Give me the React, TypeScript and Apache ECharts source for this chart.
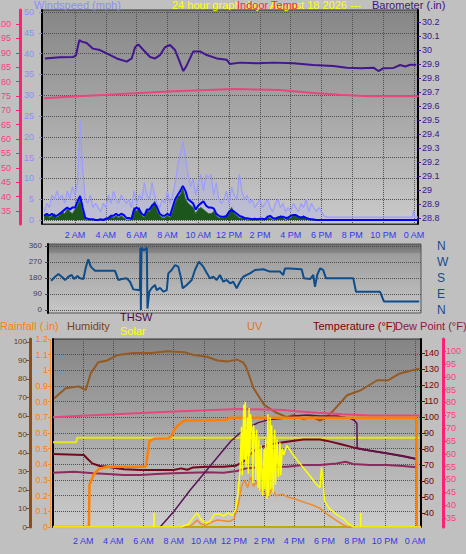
import React, { useEffect, useRef } from "react";
import * as echarts from "echarts";

// ---------- tick labels ----------
const hourTicks = [2, 4, 6, 8, 10, 12, 14, 16, 18, 20, 22, 24];
const windTicks = [0, 5, 10, 15, 20, 25, 30, 35, 40, 45, 50];
const indoorTicksTop = [35, 40, 45, 50, 55, 60, 65, 70, 75, 80, 85, 90, 95, 100, 105];
const baroTicks = [28.8, 28.9, 29, 29.1, 29.2, 29.3, 29.4, 29.5, 29.6, 29.7, 29.8, 29.9, 30, 30.1, 30.2];
const dirTicks = [0, 90, 180, 270, 360];
const dirNames = ["N", "E", "S", "W", "N"];
const rainTicks = [0, 0.1, 0.2, 0.3, 0.4, 0.5, 0.6, 0.7, 0.8, 0.9, 1, 1.1, 1.2];
const humTicks = [0, 10, 20, 30, 40, 50, 60, 70, 80, 90, 100];
const tempTicks = [40, 50, 60, 70, 80, 90, 100, 110, 120, 130, 140];
const dewTicks = [35, 40, 45, 50, 55, 60, 65, 70, 75, 80, 85, 90, 95, 100];

// ---------- top panel: wind (10-minute samples from midnight) ----------
const windGust = [
  2, 4, 3, 6, 5, 7, 5, 6, 4, 7,
  5, 8, 6, 9, 24, 12, 5, 4, 6, 3,
  4, 3, 2, 4, 3, 6, 4, 7, 5, 4,
  6, 5, 4, 5, 3, 7, 4, 6, 5, 9,
  6, 5, 9, 6, 4, 3, 5, 4, 7, 4,
  6, 9, 13, 16, 19, 15, 11, 8, 10, 6,
  9, 11, 7, 11, 10, 11, 6, 9, 5, 4,
  5, 7, 4, 8, 6, 5, 11, 7, 5, 6,
  4, 5, 3, 4, 5, 3, 4, 5, 3, 2,
  4, 5, 3, 4, 2, 3, 2, 4, 3, 2,
  4, 3, 5, 2, 4, 3, 2, 3, 2, 1, 0.7,
];
const windGustTail: [number, number][] = [[18.5, 0.7], [23.9, 0.7], [23.97, 2.4], [24.05, 0.7], [24.26, 0.7]];
const windAvg = [
  1, 1.5, 1, 1.5, 1, 1, 1.5, 2, 2.5, 3,
  2.5, 3, 3, 4.5, 5.8, 3, 0.5, 0.3, 0.2, 0.2,
  0, 0, 0.2, 0, 0.3, 0.5, 1, 1, 1.5, 1,
  1.5, 1.2, 0.5, 0.5, 0.3, 2.5, 3, 2.5, 1.5, 1,
  2.5, 2.5, 3.5, 4, 3, 1.5, 1, 1, 1.5, 1,
  3, 5, 6, 7, 8.2, 7, 5, 4.5, 4, 2.5,
  3.5, 4, 4.5, 3.5, 3, 3, 2.8, 1.5, 1, 0.8,
  0.8, 1, 2, 2.4, 2, 1.5, 1, 0.8, 0.5, 0.4,
  0.3, 0.2, 0.3, 0.2, 0.3, 0.3, 0.2, 0.8, 1, 0.5,
  0.3, 0.6, 0.8, 0.8, 0.5, 0.6, 1, 1.2, 1.2, 0.8,
  0.6, 0.8, 0.5, 0.3, 0.2, 0.1, 0, 0, 0, 0, 0,
];
const windAvgTail: [number, number][] = [[24.26, 0]];
const windSpeed = [
  1, 1.5, 0.5, 1, 1.5, 0.5, 1, 2, 1.5, 2.5,
  2, 1.5, 2.5, 3.5, 5, 2, 0, 0, 0, 0,
  0, 0, 0, 0, 0, 0.5, 1, 0.5, 1, 0.5,
  1, 0.5, 0, 0, 0, 3, 2, 3, 1, 0.5,
  2.5, 2, 3, 4.5, 2, 1, 0.5, 0.5, 1, 0.5,
  2, 4, 5.5, 6, 7.5, 5, 4, 3.5, 3, 1.5,
  2.5, 3, 2.5, 2, 1.5, 1.5, 2, 1, 0.5, 0.5,
  0.5, 1, 2, 3, 1.5, 1, 0.5, 0.5, 0.5, 0,
  0, 0, 0, 0, 0, 0, 0, 0.5, 0.5, 0,
  0, 0.5, 1, 0.5, 0, 0.5, 0.5, 1, 1, 0.5,
  0.5, 1, 0.5, 0, 0, 0, 0, 0, 0, 0, 0,
];
const windSpeedTail: [number, number][] = [[24.26, 0]];

// ---------- top panel: barometer & indoor temperature ----------
const barometer: [number, number][] = [
  [0.05, 29.94], [1.03, 29.948], [1.87, 29.95], [2.06, 29.96], [2.28, 30.07], [2.44, 30.06],
  [2.76, 30.05], [3.17, 30.01], [3.62, 30.0], [4.06, 29.976], [4.71, 29.94], [5.36, 29.917],
  [5.68, 29.94], [5.9, 30.02], [6.11, 30.04], [6.44, 30.0], [6.87, 29.95], [7.19, 29.94],
  [7.52, 29.964], [7.84, 30.02], [8.17, 30.036], [8.49, 30.0], [8.71, 29.94], [9.03, 29.85],
  [9.25, 29.89], [9.68, 29.99], [10.12, 29.99], [10.55, 29.964], [11.2, 29.94], [11.85, 29.93],
  [12.06, 29.9], [12.71, 29.91], [13.8, 29.905], [14.88, 29.91], [16.18, 29.905], [17.47, 29.893],
  [18.77, 29.886], [19.64, 29.874], [20.51, 29.87], [21.37, 29.874], [21.69, 29.85], [22.02, 29.87],
  [22.67, 29.872], [23.1, 29.893], [23.43, 29.882], [23.75, 29.895], [24.14, 29.895],
];
const indoorTemp: [number, number][] = [
  [0, 74.2], [1.9, 74.8], [4.1, 75.4], [6.2, 76.0], [8.4, 76.6], [10.6, 77.1], [12.4, 77.4],
  [15.3, 77.1], [16.2, 76.6], [17.5, 76.0], [19.2, 75.4], [21.0, 74.9], [24.3, 74.9],
];

// ---------- wind direction ----------
const windDir: [number, number][] = [
  [0, 165], [0.26, 187], [0.48, 202], [0.7, 187], [0.91, 169], [1.13, 187], [1.35, 197], [1.5, 174],
  [1.72, 191], [1.89, 178], [2.11, 174], [2.28, 244], [2.43, 285], [2.59, 244], [2.87, 221], [4.17, 221],
  [4.39, 169], [4.61, 174], [4.94, 178], [5.15, 159], [5.37, 116], [5.69, 112], [5.8, 112], [5.83, 350],
  [5.86, 0], [5.9, 350], [6.05, 335], [6.25, 350], [6.29, 8], [6.41, 103], [6.57, 124], [6.78, 141],
  [6.89, 112], [7.11, 124], [7.33, 103], [7.55, 112], [7.65, 206], [7.87, 225], [8.09, 253], [8.3, 244],
  [8.46, 187], [8.59, 122], [8.85, 141], [9.18, 169], [9.39, 225], [9.65, 272], [9.93, 244], [10.16, 208],
  [10.37, 178], [10.59, 187], [10.81, 169], [11.02, 197], [11.24, 159], [11.46, 169], [11.68, 150],
  [11.89, 159], [12.11, 122], [12.33, 159], [12.54, 187], [12.77, 197], [12.98, 206], [13.31, 225],
  [13.85, 229], [14.29, 216], [14.94, 216], [15.15, 197], [15.26, 234], [15.59, 234], [16.35, 229],
  [16.5, 178], [16.9, 174], [17.11, 197], [17.22, 131], [17.37, 197], [17.55, 234], [17.76, 225],
  [17.94, 178], [19.72, 178], [19.9, 103], [21.46, 103], [21.72, 48], [24.02, 48],
];

// ---------- bottom panel ----------
const humidity: [number, number][] = [
  [0.07, 69.5], [0.84, 75], [1.7, 76], [2.17, 74], [2.5, 83], [3.0, 89], [3.6, 90], [4.3, 93],
  [5.3, 94], [6.5, 94], [7.6, 95], [8.7, 94.5], [9.3, 93], [10.2, 92], [10.9, 90], [11.6, 89.5],
  [12.2, 90.5], [12.6, 89], [12.8, 86.6], [13.3, 75], [14.0, 66], [14.75, 62], [15.5, 59.4],
  [16.0, 60.5], [16.6, 58.5], [17.2, 59.5], [17.7, 57.5], [18.2, 60], [18.6, 63], [19.5, 71.2],
  [20.4, 73.9], [21.5, 79.3], [22.2, 79.3], [23.0, 83], [23.9, 84.8], [24.3, 85.5],
];
const humidityIn: [number, number][] = [[0, 45.8], [1.55, 45.8], [1.6, 48.2], [24.3, 48.2]];
const rainfall: [number, number][] = [
  [0, 0], [2.38, 0], [2.42, 0.27], [2.72, 0.34], [3.05, 0.37], [3.4, 0.38], [3.8, 0.385], [6.15, 0.385],
  [6.25, 0.45], [6.4, 0.55], [6.7, 0.563], [7.65, 0.566], [7.85, 0.58], [8.0, 0.615], [8.25, 0.647],
  [8.7, 0.68], [11.5, 0.684], [11.7, 0.697], [24.1, 0.697], [24.12, 0], [24.4, 0],
];
const rainRate: [number, number][] = [[0, 0], [24.4, 0]];
const temperature: [number, number][] = [
  [0, 76.9], [2.05, 76.25], [2.25, 74.2], [2.6, 71], [3.1, 69.4], [3.6, 68.9], [4.7, 67.3], [5.8, 66.9],
  [6.9, 66.9], [8.0, 66.9], [8.5, 67.9], [8.9, 67.0], [9.3, 68.5], [10.2, 68.9], [11.3, 68.9],
  [12.1, 69.5], [12.6, 72], [13.0, 76], [13.4, 79.5], [13.9, 81.5], [14.4, 83], [15.5, 84.6],
  [16.6, 86], [17.7, 86], [18.4, 84.6], [19.1, 83], [19.9, 81], [21.0, 79], [22.1, 77.3],
  [23.2, 75.6], [24.1, 73.75],
];
const dewPoint: [number, number][] = [
  [0, 65.2], [1.4, 65.8], [2.7, 64.8], [3.6, 64.4], [4.7, 63.75], [5.8, 63.75], [6.9, 64.4], [8.0, 64.8],
  [9.1, 65.2], [10.2, 65.5], [11.3, 65.2], [12.2, 66.2], [12.8, 67.9], [13.3, 68.3], [14.4, 68.9],
  [15.5, 68.9], [16.6, 70], [17.7, 70], [18.8, 71], [19.4, 72], [19.9, 70.6], [21.0, 70], [22.1, 70],
  [23.2, 69.4], [24.1, 68.6],
];
const thsw: [number, number][] = [
  [7.1, 31.3], [8.0, 40.8], [9.1, 54.4], [10.2, 66.9], [11.3, 79.4], [11.8, 85], [12.4, 90],
  [12.9, 93.5], [13.3, 95], [13.6, 96.5], [14.4, 98.5], [15.3, 99.2], [16.0, 100.6], [16.85, 101.25],
  [17.7, 100.6], [18.8, 100.6], [19.7, 99.2], [20.0, 97.7], [20.15, 96], [20.17, 80.4], [20.4, 79.8],
  [22.1, 77.3], [24.1, 73.75],
];
const uvIndex: [number, number][] = [
  [0, 0], [9.0, 0], [9.3, 0.2], [9.55, 0.45], [9.8, 0.2], [10.1, 0.1], [10.5, 0.3], [10.9, 0.45],
  [11.3, 0.4], [11.7, 0.35], [12.0, 0.5], [12.3, 1.5], [12.5, 2.6], [12.7, 3.0], [12.9, 2.5],
  [13.1, 3.2], [13.3, 2.6], [13.5, 2.9], [13.7, 2.4], [14.0, 2.2], [14.3, 1.9], [14.5, 2.5],
  [14.8, 2.0], [15.2, 2.1], [15.6, 1.9], [16.0, 1.8], [16.6, 1.6], [17.2, 1.4], [17.7, 1.2],
  [18.2, 0.8], [18.8, 0.4], [19.3, 0.1], [19.6, 0], [24.4, 0],
];
const solar: [number, number][] = [
  [0, 0], [8.5, 0], [9.0, 20], [9.3, 60], [9.55, 90], [9.8, 50], [10.1, 25], [10.4, 35], [10.7, 80],
  [11.0, 85], [11.3, 70], [11.6, 90], [11.9, 75], [12.1, 110], [12.25, 200], [12.4, 360], [12.5, 640],
  [12.55, 330], [12.65, 780], [12.7, 430], [12.75, 800], [12.8, 380], [12.9, 700], [12.95, 340],
  [13.0, 760], [13.05, 450], [13.1, 720], [13.2, 600], [13.25, 280], [13.3, 650], [13.4, 530],
  [13.45, 300], [13.5, 620], [13.6, 250], [13.65, 560], [13.7, 230], [13.8, 520], [13.9, 200],
  [14.0, 500], [14.05, 240], [14.1, 560], [14.2, 180], [14.25, 720], [14.3, 200], [14.4, 700],
  [14.45, 240], [14.5, 650], [14.6, 220], [14.7, 620], [14.75, 270], [14.85, 560], [14.95, 320],
  [15.05, 540], [15.1, 330], [15.2, 500], [15.3, 460], [15.5, 520], [16.0, 450], [16.5, 390],
  [17.0, 330], [17.5, 270], [17.7, 250], [17.8, 380], [17.9, 300], [18.0, 170], [18.3, 120],
  [18.8, 80], [19.3, 50], [19.6, 20], [19.9, 0], [24.4, 0],
];
const sunTimes = [6.7, 20.4];
const sunMarkHeight = 0.09;

// ---------- helpers ----------
const FONT = "'Liberation Sans', Arial, sans-serif";
const tenMinute = (vals: number[], tail: [number, number][]) =>
  [...vals.map((v, i) => [i / 6, v]), ...tail];
const hourLabel = (v: number) => {
  const h = Math.round(v) % 24;
  const ap = h < 12 ? "AM" : "PM";
  const hh = h === 12 ? 12 : h % 12;
  return `${hh} ${ap}`;
};
const grad = (stops: [number, string][]) => ({
  type: "linear", x: 0, y: 0, x2: 0, y2: 1,
  colorStops: stops.map(([offset, color]) => ({ offset, color })),
});
const dotted = { show: true, lineStyle: { color: "#505050", type: "dotted", width: 1 } };
const noSplit = { show: false };

const xAxisFor = (gridIndex: number, min: number, max: number, labels: boolean, margin: number) => ({
  gridIndex, type: "value", min, max,
  axisLine: { show: labels, onZero: false, lineStyle: { color: "#303030", width: 1 } },
  axisTick: { show: false, customValues: hourTicks },
  axisLabel: {
    show: labels, customValues: hourTicks, formatter: hourLabel,
    color: "#3636ee", fontSize: 9, margin, fontFamily: FONT,
  },
  splitLine: labels ? dotted : noSplit,
});

const option: any = {
  animation: false,
  backgroundColor: "#c0c0c0",
  textStyle: { fontFamily: FONT },
  grid: [
    { left: 42, top: 10, width: 376, height: 214, show: true, outerBoundsMode: "none", containLabel: false,
      backgroundColor: grad([[0, "#868686"], [1, "#cacaca"]]), borderColor: "#333", borderWidth: 1 },
    { left: 48, top: 244, width: 373, height: 69, show: true, outerBoundsMode: "none", containLabel: false,
      backgroundColor: grad([[0, "#6c6c6c"], [0.13, "#8a8a8a"], [0.14, "#9c9c9c"], [1, "#c8c8c8"]]),
      borderColor: "#555", borderWidth: 1 },
    { left: 53, top: 339, width: 368, height: 188, show: true, outerBoundsMode: "none", containLabel: false,
      backgroundColor: grad([[0, "#848484"], [1, "#cccccc"]]), borderColor: "#333", borderWidth: 1 },
  ],
  xAxis: [
    xAxisFor(0, -0.14, 24.26, true, 6),
    xAxisFor(1, -0.2, 24.14, false, 0),
    xAxisFor(2, 0, 24.4, true, 9),
  ],
  yAxis: [
    // 0 windspeed
    { gridIndex: 0, type: "value", position: "left", offset: 0, min: -0.96, max: 50.48,
      axisLine: { show: true, onZero: false, lineStyle: { color: "#000", width: 2 } },
      axisTick: { show: true, length: 3, customValues: windTicks, lineStyle: { color: "#8c8cff" } },
      axisLabel: { customValues: windTicks, color: "#8c8cff", fontSize: 9, margin: 8 },
      splitLine: dotted },
    // 1 indoor temperature (top)
    { gridIndex: 0, type: "value", position: "left", offset: 22, min: 30.48, max: 104.87,
      axisLine: { show: true, onZero: false, lineStyle: { color: "#ff1f74", width: 3 } },
      axisTick: { show: true, length: 4, customValues: indoorTicksTop, lineStyle: { color: "#ff1f74" } },
      axisLabel: { customValues: indoorTicksTop, color: "#ff3a80", fontSize: 9, margin: 9 },
      splitLine: noSplit },
    // 2 barometer
    { gridIndex: 0, type: "value", position: "right", offset: 0, min: 28.757, max: 30.286,
      axisLine: { show: true, onZero: false, lineStyle: { color: "#000", width: 2 } },
      axisTick: { show: true, length: 3, customValues: baroTicks, lineStyle: { color: "#4a1a90" } },
      axisLabel: { customValues: baroTicks, color: "#3c1488", fontSize: 9, margin: 4,
        formatter: (v: number) => { const r = Math.round(v * 10) / 10; return Number.isInteger(r) ? String(r) : r.toFixed(1); } },
      splitLine: noSplit },
    // 3 wind direction degrees
    { gridIndex: 1, type: "value", position: "left", offset: 0, min: -16.9, max: 371.25,
      axisLine: { show: true, onZero: false, lineStyle: { color: "#000", width: 2 } },
      axisTick: { show: true, length: 3, customValues: dirTicks, lineStyle: { color: "#404060" } },
      axisLabel: { customValues: dirTicks, color: "#404060", fontSize: 8, margin: 6 },
      splitLine: dotted },
    // 4 compass letters
    { gridIndex: 1, type: "value", position: "right", offset: 14, min: -16.9, max: 371.25,
      axisLine: { show: false, onZero: false }, axisTick: { show: false, customValues: dirTicks },
      axisLabel: { customValues: dirTicks, color: "#1a4a8c", fontSize: 12, margin: 2,
        formatter: (v: number) => dirNames[dirTicks.indexOf(v)] },
      splitLine: noSplit },
    // 5 rainfall
    { gridIndex: 2, type: "value", position: "left", offset: 3, min: 0, max: 1.2,
      axisLine: { show: true, onZero: false, lineStyle: { color: "#ff8a1a", width: 1, type: "dotted" } },
      axisTick: { show: true, length: 2, customValues: rainTicks, lineStyle: { color: "#ff8a1a" } },
      axisLabel: { customValues: rainTicks, color: "#ff8000", fontSize: 9, margin: 2,
        formatter: (v: number) => (v === 0 ? "0" : v === 1 ? "1" : v.toFixed(1)) },
      splitLine: dotted },
    // 6 humidity
    { gridIndex: 2, type: "value", position: "left", offset: 23, min: 0, max: 101.6,
      axisLine: { show: true, onZero: false, lineStyle: { color: "#8e4c16", width: 3 } },
      axisTick: { show: true, length: 4, customValues: humTicks, lineStyle: { color: "#8e4c16" } },
      axisLabel: { customValues: humTicks, color: "#6e3c14", fontSize: 8, margin: 3 },
      splitLine: noSplit },
    // 7 temperature / dew point
    { gridIndex: 2, type: "value", position: "right", offset: 0, min: 31.25, max: 148.75,
      axisLine: { show: true, onZero: false, lineStyle: { color: "#000", width: 2 } },
      axisTick: { show: true, length: 4, customValues: tempTicks, lineStyle: { color: "#800000" } },
      axisLabel: { customValues: tempTicks, color: "#800000", fontSize: 9, margin: 3 },
      splitLine: noSplit },
    // 8 indoor temperature (bottom)
    { gridIndex: 2, type: "value", position: "right", offset: 22, min: 31.5, max: 104.7,
      axisLine: { show: true, onZero: false, lineStyle: { color: "#ff1f74", width: 3 } },
      axisTick: { show: true, length: 3, customValues: dewTicks, lineStyle: { color: "#ff1f74" } },
      axisLabel: { customValues: dewTicks, color: "#ff3a80", fontSize: 9, margin: 3 },
      splitLine: noSplit },
    // 9 UV (hidden)
    { gridIndex: 2, type: "value", show: false, min: 0, max: 12, splitLine: noSplit },
    // 10 solar (hidden)
    { gridIndex: 2, type: "value", show: false, min: 0, max: 1200, splitLine: noSplit },
    // 11 left border of bottom panel
    { gridIndex: 2, type: "value", position: "left", offset: 0, min: 0, max: 1,
      axisLine: { show: true, onZero: false, lineStyle: { color: "#000", width: 2 } },
      axisTick: { show: false }, axisLabel: { show: false }, splitLine: noSplit },
  ],
  series: [
    { type: "line", xAxisIndex: 0, yAxisIndex: 0, data: tenMinute(windGust, windGustTail), symbol: "none",
      lineStyle: { color: "#9c9cff", width: 1.2 }, areaStyle: { color: "rgba(160,160,255,0.35)" } },
    { type: "line", xAxisIndex: 0, yAxisIndex: 0, data: tenMinute(windSpeed, windSpeedTail), symbol: "none",
      lineStyle: { color: "#2a6a2a", width: 1 }, areaStyle: { color: "#1d561d", opacity: 1 } },
    { type: "line", xAxisIndex: 0, yAxisIndex: 0, data: tenMinute(windAvg, windAvgTail), symbol: "none",
      lineStyle: { color: "#0000ff", width: 2 } },
    { type: "line", xAxisIndex: 0, yAxisIndex: 1, data: indoorTemp, symbol: "none",
      lineStyle: { color: "#e8467f", width: 2 } },
    { type: "line", xAxisIndex: 0, yAxisIndex: 2, data: barometer, symbol: "none",
      lineStyle: { color: "#421690", width: 2 } },

    { type: "line", xAxisIndex: 1, yAxisIndex: 3, data: windDir, symbol: "none",
      lineStyle: { color: "#0e4d8c", width: 2 } },

    { type: "line", xAxisIndex: 2, yAxisIndex: 5, data: rainRate, symbol: "none",
      lineStyle: { color: "#c4a800", width: 2 } },
    { type: "line", xAxisIndex: 2, yAxisIndex: 6, data: humidity, symbol: "none",
      lineStyle: { color: "#955a22", width: 2 } },
    { type: "line", xAxisIndex: 2, yAxisIndex: 8, data: indoorTemp, symbol: "none",
      lineStyle: { color: "#e8467f", width: 2 } },
    { type: "line", xAxisIndex: 2, yAxisIndex: 6, data: humidityIn, symbol: "none",
      lineStyle: { color: "#e8e620", width: 2 } },
    { type: "line", xAxisIndex: 2, yAxisIndex: 7, data: dewPoint, symbol: "none",
      lineStyle: { color: "#8e2a5e", width: 2 } },
    { type: "line", xAxisIndex: 2, yAxisIndex: 7, data: temperature, symbol: "none",
      lineStyle: { color: "#74081c", width: 2 } },
    { type: "line", xAxisIndex: 2, yAxisIndex: 7, data: thsw, symbol: "none",
      lineStyle: { color: "#5a1456", width: 1.5 } },
    { type: "line", xAxisIndex: 2, yAxisIndex: 5, data: rainfall, symbol: "none",
      lineStyle: { color: "#ff8000", width: 2.5 } },
    { type: "line", xAxisIndex: 2, yAxisIndex: 9, data: uvIndex, symbol: "none",
      lineStyle: { color: "#f08c2c", width: 1.5 } },
    { type: "line", xAxisIndex: 2, yAxisIndex: 10, data: solar, symbol: "none",
      lineStyle: { color: "#ffff00", width: 1.5 } },
    { type: "line", xAxisIndex: 2, yAxisIndex: 5, symbol: "none", connectNulls: false,
      data: sunTimes.flatMap((t) => [[t, 0], [t, sunMarkHeight], "-"]),
      lineStyle: { color: "#ffff00", width: 1.5 } },
  ],
  graphic: [
    { type: "text", x: 34, y: 5, style: { text: "Windspeed (mph)", fill: "#8c8cff", font: `11px ${FONT}`, verticalAlign: "middle" } },
    { type: "text", x: 172, y: 5, style: { text: "24 hour graph day : August 18 2026 ---", fill: "#ffff00", font: `11px ${FONT}`, verticalAlign: "middle" } },
    { type: "text", x: 237, y: 5, style: { text: "Indoor Temp", fill: "#ff2050", font: `11px ${FONT}`, verticalAlign: "middle" } },
    { type: "text", x: 372, y: 5, style: { text: "Barometer (.in)", fill: "#3c1488", font: `11px ${FONT}`, verticalAlign: "middle" } },
    { type: "text", x: 0, y: 326, style: { text: "Rainfall (.in)", fill: "#ff8000", font: `11px ${FONT}`, verticalAlign: "middle" } },
    { type: "text", x: 67, y: 326, style: { text: "Humidity", fill: "#7a4214", font: `11px ${FONT}`, verticalAlign: "middle" } },
    { type: "text", x: 120, y: 317, style: { text: "THSW", fill: "#4e0a48", font: `11px ${FONT}`, verticalAlign: "middle" } },
    { type: "text", x: 120, y: 331, style: { text: "Solar", fill: "#ffff00", font: `11px ${FONT}`, verticalAlign: "middle" } },
    { type: "text", x: 247, y: 326, style: { text: "UV", fill: "#e07420", font: `11px ${FONT}`, verticalAlign: "middle" } },
    { type: "text", x: 313, y: 326, style: { text: "Temperature (°F)", fill: "#800000", font: `11px ${FONT}`, verticalAlign: "middle" } },
    { type: "text", x: 395, y: 326, style: { text: "Dew Point (°F)", fill: "#8a1a40", font: `11px ${FONT}`, verticalAlign: "middle" } },
  ],
};

export default function App() {
  const ref = useRef<HTMLDivElement>(null);
  useEffect(() => {
    document.body.style.margin = "0";
    const chart = echarts.init(ref.current!, undefined, { renderer: "svg" });
    chart.setOption(option);
    return () => chart.dispose();
  }, []);
  return <div ref={ref} style={{ width: 466, height: 554, position: "absolute", left: 0, top: 0 }} />;
}
